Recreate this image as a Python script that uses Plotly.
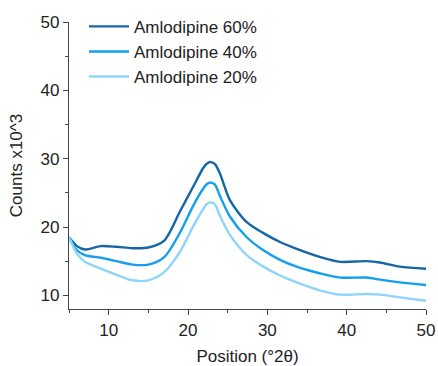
import plotly.graph_objects as go

# Diffraction positions (°2θ) and counts (x10^3) for each loading
position = [5, 6, 7, 9, 11, 13, 15, 17, 19, 20.7, 21.9, 22.4, 22.9, 23.4, 24.0, 25.3,
            27.4, 29.5, 31.6, 33.7, 36.7, 39.2, 42.5, 44.2, 46.7, 50]
amlo_60 = [18.5, 17.2, 16.7, 17.2, 17.1, 16.9, 17.0, 18.0, 22.3, 26.0, 28.6, 29.3, 29.5,
           29.2, 27.9, 23.9, 20.7, 19.1, 17.8, 16.8, 15.6, 14.9, 15.0, 14.8, 14.2, 13.9]
amlo_40 = [18.5, 16.6, 15.9, 15.5, 15.0, 14.5, 14.5, 15.6, 19.2, 23.2, 25.6, 26.3, 26.5,
           26.2, 24.6, 21.5, 18.5, 16.6, 15.2, 14.2, 13.2, 12.6, 12.6, 12.3, 11.9, 11.5]
amlo_20 = [18.5, 16.1, 14.9, 13.9, 13.0, 12.2, 12.2, 13.4, 16.4, 20.2, 22.6, 23.4, 23.6,
           23.3, 21.7, 18.8, 15.9, 14.2, 12.9, 11.9, 10.7, 10.1, 10.2, 10.1, 9.7, 9.2]

series_names = ["Amlodipine 60%", "Amlodipine 40%", "Amlodipine 20%"]
series_colors = ["#1466a8", "#12a0ee", "#8fd4fa"]

fig = go.Figure()
for name, ys, col in zip(series_names, [amlo_60, amlo_40, amlo_20], series_colors):
    fig.add_trace(go.Scatter(x=position, y=ys, mode="lines", name=name,
                             line=dict(color=col, width=2.4, shape="spline", smoothing=0.8)))

axis_common = dict(
    showline=True, linecolor="#444", linewidth=1.3, mirror=False,
    ticks="outside", ticklen=5, tickwidth=1.3, tickcolor="#444",
    showgrid=False, zeroline=False, automargin=False,
    tickfont=dict(family="Liberation Sans, Arial", size=17, color="#222"),
    minor=dict(ticks="outside", ticklen=3, tickwidth=1.2, tickcolor="#444", dtick=5, showgrid=False),
)

fig.update_layout(
    width=438, height=366,
    margin=dict(l=69, r=12, t=22, b=57, autoexpand=False),
    plot_bgcolor="white", paper_bgcolor="white",
    font=dict(family="Liberation Sans, Arial", size=17, color="#222"),
    xaxis=dict(range=[5, 50], tick0=10, dtick=10,
               title=dict(text="Position (°2θ)", font=dict(size=17), standoff=14),
               **axis_common),
    yaxis=dict(range=[8, 50], tick0=10, dtick=10,
               title=dict(text="Counts x10^3", font=dict(size=17), standoff=13),
               **axis_common),
    legend=dict(x=0.042, y=1.046, xanchor="left", yanchor="top",
                bgcolor="rgba(0,0,0,0)", font=dict(size=17, color="#222"),
                itemwidth=40, tracegroupgap=0),
    showlegend=True,
)

fig.write_html("out.html")
